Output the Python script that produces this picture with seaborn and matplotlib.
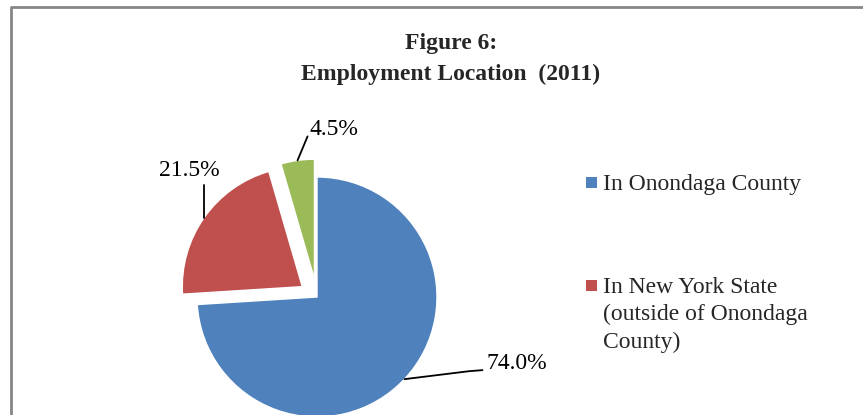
import numpy as np
import seaborn as sns
import matplotlib.pyplot as plt
from matplotlib.patches import Rectangle

# Data
locations = ["In Onondaga County",
             "In New York State\n(outside of Onondaga\nCounty)",
             "Outside of New York State"]
shares = [74.0, 21.5, 4.5]

colors = ["#4F81BD", "#C0504D", "#9BBB59"]

sns.set_theme(style="white")
plt.rcParams["font.family"] = ["Liberation Serif", "DejaVu Serif"]

W, H = 863, 415
fig = plt.figure(figsize=(W / 100, H / 100), dpi=100)


def fx(px):
    return px / W


def fy(py):
    return 1 - py / H


# pie axes: centre at (317, 297) px, radius 120 px
R = 120
cx, cy = 317, 297
ax = fig.add_axes([fx(cx - 1.5 * R), fy(cy + 1.5 * R), 3 * R / W, 3 * R / H])
wedges, _ = ax.pie(shares, colors=colors, startangle=90, counterclock=False,
                   explode=[0, 0.15, 0.15], radius=1,
                   wedgeprops=dict(edgecolor="white", linewidth=1))
ax.set_xlim(-1.5, 1.5)
ax.set_ylim(-1.5, 1.5)
ax.set_aspect("auto")
ax.axis("off")

# data labels with leader lines (offsets in pixels from wedge mid-edge, y up)
leaders = [[(65, 8), (78, 9)], [(0, 33)], [(10, 24)]]
text_off = [(82, 16), (-15, 47), (36, 31)]
text_ha = ["left", "center", "center"]
to_fig = fig.transFigure.inverted()
for w, v, pts, toff, ha in zip(wedges, shares, leaders, text_off, text_ha):
    mid = np.deg2rad((w.theta1 + w.theta2) / 2)
    x0 = w.center[0] + w.r * np.cos(mid)
    y0 = w.center[1] + w.r * np.sin(mid)
    disp = ax.transData.transform((x0, y0))
    path = [disp] + [disp + np.array(p) for p in pts]
    path = to_fig.transform(np.array(path))
    fig.add_artist(plt.Line2D(path[:, 0], path[:, 1], color="black", lw=1.3,
                              transform=fig.transFigure))
    tpos = to_fig.transform(disp + np.array(toff))
    fig.text(tpos[0], tpos[1], f"{v:.1f}%", ha=ha, va="center", fontsize=17,
             color="black")

# title
fig.text(fx(451), fy(59), "Figure 6:\nEmployment Location  (2011)", ha="center",
         va="center", fontsize=17, fontweight="bold", linespacing=1.62)

# legend drawn by hand so markers sit on the first line of each entry
# (only the first two entries fall inside the visible area)
ly = 182
for lab, col in zip(locations[:2], colors[:2]):
    fig.add_artist(Rectangle((fx(586), fy(ly + 6)), 11 / W, 11 / H,
                             transform=fig.transFigure, facecolor=col,
                             edgecolor="none"))
    fig.text(fx(603), fy(ly - 8), lab, ha="left", va="top", fontsize=17,
             linespacing=1.38)
    ly += 28 * lab.count("\n") + 103

# chart area border (left and top visible)
fig.add_artist(plt.Line2D([fx(11), fx(11), fx(W + 5)], [fy(H + 5), fy(7), fy(7)],
                          color="#868686", lw=2, transform=fig.transFigure))

fig.savefig("out.png", dpi=100)
